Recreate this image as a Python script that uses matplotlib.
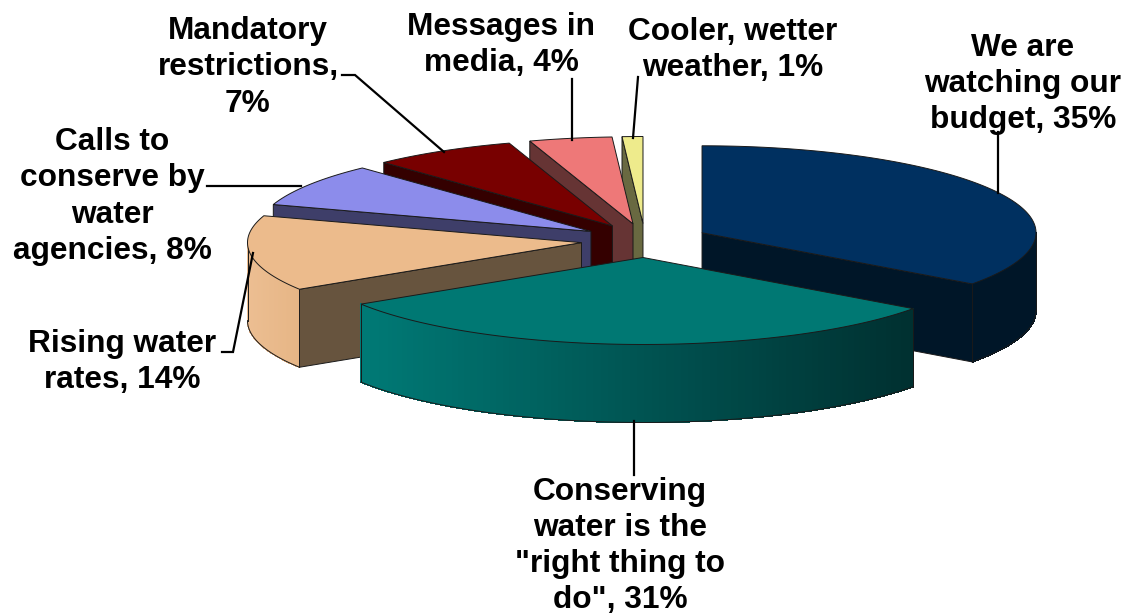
import numpy as np
import matplotlib
matplotlib.use('Agg')
from matplotlib import pyplot as plt
from matplotlib.patches import Polygon
from matplotlib.colors import to_rgb

# clockwise from 12 o'clock
categories = ['We are\nwatching our\nbudget', 'Conserving\nwater is the\n"right thing to\ndo"',
              'Rising water\nrates', 'Calls to\nconserve by\nwater\nagencies',
              'Mandatory\nrestrictions,\n', 'Messages in\nmedia', 'Cooler, wetter\nweather']
values = [35, 31, 14, 8, 7, 4, 1]

top_colors = ['#003060', '#007873', '#ecbb8c', '#8c8ceb', '#780000', '#ee7878', '#eeeb8c']
cut_colors = ['#001628', '#00302f', '#67543e', '#3e3e69', '#340000', '#663434', '#696941']
wall_left = ['#001628', '#007a76', '#ecbe92', '#3e3e69', '#340000', '#663434', '#696941']
wall_right = ['#001628', '#003030', '#e6b585', '#3e3e69', '#340000', '#663434', '#696941']

label_xy = [(1023, 84), (620, 546), (122, 362), (112, 196.5), (248, 67.5), (501, 45), (733, 50)]
leaders = [[(998, 132), (998, 193)],
           [(634, 421), (634, 475)],
           [(222, 352), (233, 352), (253, 253)],
           [(207, 186), (301, 186)],
           [(342, 75), (355, 75), (444, 152)],
           [(572, 79), (572, 140)],
           [(638, 77), (633, 138)]]

cx, cy = 645, 240.5
rx, ry = 334, 87
ex, ey = 64, 17
depth = 78
edge = '#1a1a1a'

fig = plt.figure(figsize=(11.25, 6.14), dpi=100)
ax = fig.add_axes([0, 0, 1, 1])
ax.set_xlim(0, 1125)
ax.set_ylim(614, 0)
ax.axis('off')


def rim(apex, t):
    return apex[0] + rx * np.sin(t), apex[1] - ry * np.cos(t)


def extrude(x, y):
    # closed wall polygon from a top outline
    xs = np.concatenate([x, x[::-1]])
    ys = np.concatenate([y, (y + depth)[::-1]])
    return np.column_stack([xs, ys])


def draw_slice(i, start, end, z):
    mid = (start + end) / 2
    apex = (cx + ex * np.sin(mid), cy - ey * np.cos(mid))

    # cut faces that look at the viewer
    for ang, show in ((start, np.sin(start) < 0), (end, np.sin(end) > 0)):
        if show:
            px, py = rim(apex, ang)
            pts = extrude(np.array([apex[0], px]), np.array([apex[1], py]))
            ax.add_patch(Polygon(pts, closed=True, fc=cut_colors[i], ec=edge, lw=0.7, zorder=z))

    # outer wall, only the front half of the rim
    w0, w1 = max(start, np.pi / 2), min(end, 3 * np.pi / 2)
    if w1 > w0:
        t = np.linspace(w0, w1, 90)
        x, y = rim(apex, t)
        c0, c1 = np.array(to_rgb(wall_left[i])), np.array(to_rgb(wall_right[i]))
        for j in range(len(t) - 1):
            f = (x[j] - x.min()) / (x.max() - x.min())
            col = c0 + (c1 - c0) * f
            pts = extrude(x[j:j + 2], y[j:j + 2])
            ax.add_patch(Polygon(pts, closed=True, fc=col, ec=col, lw=0.5, antialiased=False, zorder=z))
        ax.plot(x, y + depth, color=edge, lw=0.7, zorder=z)
        ax.plot([x[0], x[0]], [y[0], y[0] + depth], color=edge, lw=0.7, zorder=z)
        ax.plot([x[-1], x[-1]], [y[-1], y[-1] + depth], color=edge, lw=0.7, zorder=z)

    # top face
    t = np.linspace(start, end, 120)
    x, y = rim(apex, t)
    pts = np.column_stack([np.r_[apex[0], x], np.r_[apex[1], y]])
    ax.add_patch(Polygon(pts, closed=True, fc=top_colors[i], ec=edge, lw=0.7, zorder=z))


edges = np.radians(np.r_[0, np.cumsum(values)] * 360.0 / sum(values))
mids = (edges[:-1] + edges[1:]) / 2
# painter's order, far slices first
for z, i in enumerate(np.argsort(-np.cos(mids))):
    draw_slice(i, edges[i], edges[i + 1], z + 2)

for line in leaders:
    xs, ys = zip(*line)
    ax.plot(xs, ys, color='black', lw=1.6, zorder=20, solid_joinstyle='miter')

for name, val, (lx, ly) in zip(categories, values, label_xy):
    if name.endswith('\n'):
        txt = name + '%d%%' % val
    else:
        txt = '%s, %d%%' % (name, val)
    ax.text(lx, ly, txt, ha='center', va='center', ma='center', family='Liberation Sans',
            fontweight='bold', fontsize=22.8, linespacing=1.27, color='black', zorder=21)

fig.savefig('out.png', dpi=100)
